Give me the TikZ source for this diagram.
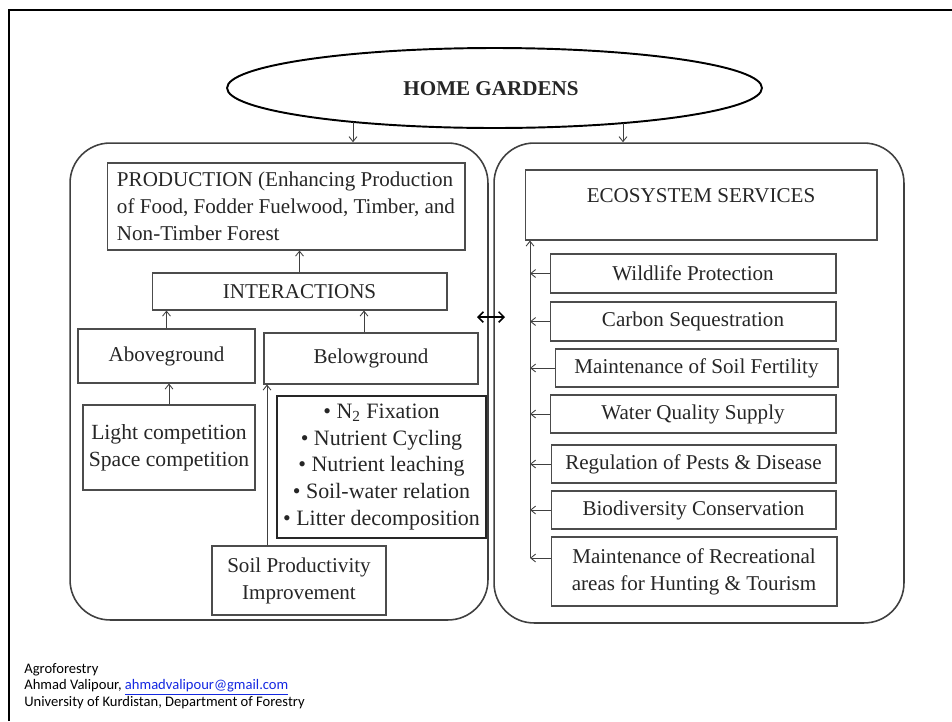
\documentclass[tikz,border=0pt]{standalone}
\usepackage{fontspec}
\setmainfont{Liberation Serif}
\newfontfamily\footfont{Carlito}
\usetikzlibrary{shapes.geometric, arrows.meta}
\definecolor{linkblue}{RGB}{20,40,225}

\tikzset{
	box/.style={draw=black!70, line width=0.6pt, inner sep=0pt, align=center, text=black!85, font=\fontsize{12}{15.3}\selectfont},
	panel/.style={draw=black!75, line width=0.9pt, rounded corners=0.8cm, inner sep=0pt},
	arr/.style={-{Straight Barb[length=2.8pt,width=4.5pt]}, draw=black!75, line width=0.5pt},
	foot/.style={anchor=base west, inner sep=0pt, font=\footfont\fontsize{8.3}{9.4}\selectfont}
}

\begin{document}
\begin{tikzpicture}[x=0.02cm, y=-0.02cm]
	\useasboundingbox (0,0) rectangle (952,721);
	% slide frame
	\draw[line width=1.7pt] (9,721) -- (9,10) -- (952,10);

	% top
	\node[ellipse, draw, line width=1.1pt, minimum width=10.7cm, minimum height=1.6cm, inner sep=0pt] (garden) at (494.5,88) {};
	\node[font=\bfseries\fontsize{12}{14}\selectfont, text=black!85] (gardentxt) at (491,89) {HOME GARDENS};

	% the two panels
	\node[panel, minimum width=8.36cm, minimum height=9.54cm] (lpanel) at (279,381.5) {};
	\node[panel, minimum width=8.2cm, minimum height=9.6cm] (rpanel) at (699,383) {};
	\coordinate (gl) at (353,122);
	\coordinate (gr) at (623,123);
	\draw[arr] (gl) -- (gl |- lpanel.north);
	\draw[arr] (gr) -- (gr |- rpanel.north);
	\coordinate (dl) at (477,317);
	\coordinate (dr) at (505,317);
	\draw[{Straight Barb[length=3pt,width=6pt]}-{Straight Barb[length=3pt,width=6pt]}, line width=0.9pt] (dl) -- (dr);

	% production side
	\node[box, minimum width=7.16cm, minimum height=1.74cm, align=left] (prod) at (286,206.5) {PRODUCTION (Enhancing Production\\of Food, Fodder Fuelwood, Timber, and\\Non-Timber Forest};
	\node[box, minimum width=5.9cm, minimum height=0.74cm] (inter) at (299.5,291.5) {INTERACTIONS};
	\node[box, minimum width=3.54cm, minimum height=1.08cm] (above) at (166.5,356) {Aboveground};
	\node[box, minimum width=4.28cm, minimum height=1.02cm] (below) at (371,358.5) {Belowground};
	\node[box, minimum width=3.44cm, minimum height=1.7cm, font=\fontsize{12.3}{15.6}\selectfont] (light) at (169,447.5) {Light competition\\Space competition};
	\node[box, draw=black!85, line width=0.9pt, minimum width=4.18cm, minimum height=2.84cm, font=\fontsize{12.5}{15.3}\selectfont] (bullets) at (381.5,467) {\textbullet\ N\textsubscript{2} Fixation\\\textbullet\ Nutrient Cycling\\\textbullet\ Nutrient leaching\\\textbullet\ Soil-water relation\\\textbullet\ Litter decomposition};
	\node[box, minimum width=3.48cm, minimum height=1.38cm] (soil) at (299,580.5) {Soil Productivity\\Improvement};

	\draw[arr] (inter.north) -- (inter.north |- prod.south);
	\draw[arr] (above.north) -- (above.north |- inter.south);
	\draw[arr] ([xshift=-0.14cm]below.north) -- ([xshift=-0.14cm]below.north |- inter.south);
	\draw[arr] (light.north) -- (light.north |- above.south);
	\draw[arr] ([xshift=-0.64cm]soil.north) -- ([xshift=-0.64cm]soil.north |- below.south);

	% ecosystem side
	\node[box, minimum width=7.04cm, text height=0.64cm, text depth=0.76cm] (eco) at (701,205) {ECOSYSTEM SERVICES};
	\node[box, minimum width=5.72cm, minimum height=0.78cm] (wild) at (693,273.5) {Wildlife Protection};
	\node[box, minimum width=5.72cm, minimum height=0.78cm] (carb) at (693,321.5) {Carbon Sequestration};
	\node[box, minimum width=5.66cm, minimum height=0.76cm] (fert) at (696.5,368) {Maintenance of Soil Fertility};
	\node[box, minimum width=5.72cm, minimum height=0.76cm] (water) at (693,414) {Water Quality Supply};
	\node[box, minimum width=5.7cm, minimum height=0.76cm] (pest) at (693.5,464) {Regulation of Pests \& Disease};
	\node[box, minimum width=5.7cm, minimum height=0.76cm] (bio) at (693.5,510) {Biodiversity Conservation};
	\node[box, minimum width=5.72cm, minimum height=1.38cm] (rec) at (694,571.5) {Maintenance of Recreational\\areas for Hunting \& Tourism};

	\coordinate (spine) at (530,558);
	\draw[arr] (spine) -- (spine |- eco.south);
	\foreach \s in {wild, carb, fert, water, pest, bio}
		\draw[arr] (\s.west) -- (\s.west -| spine);
	\draw[arr] (rec.west |- spine) -- (spine);

	% footer
	\node[foot] (foot1) at (24,673) {Agroforestry};
	\node[foot] (foot2) at (24,689.5) {Ahmad Valipour, \textcolor{linkblue}{\underline{ahmadvalipour@gmail.com}}};
	\node[foot] (foot3) at (24,706) {University of Kurdistan, Department of Forestry};
\end{tikzpicture}
\end{document}
